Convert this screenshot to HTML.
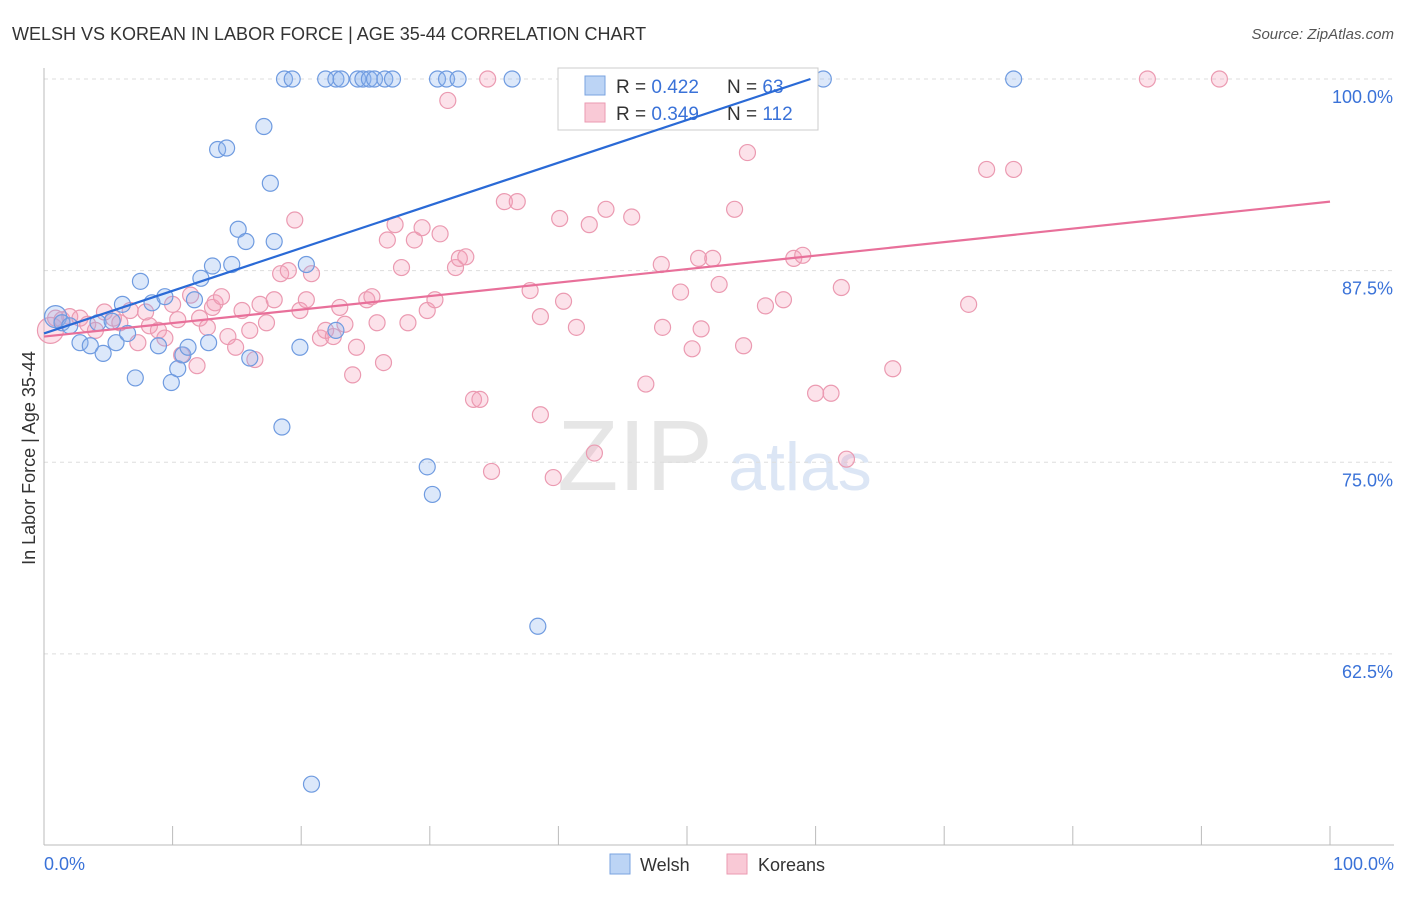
<!DOCTYPE html>
<html><head><meta charset="utf-8"><style>
body{margin:0;background:#fff;font-family:"Liberation Sans",sans-serif;}
svg text{font-family:"Liberation Sans",sans-serif;}
</style></head><body>
<svg id="chart" width="1406" height="892">
<text x="12" y="40" font-size="18" fill="#333">WELSH VS KOREAN IN LABOR FORCE | AGE 35-44 CORRELATION CHART</text>
<text x="1394" y="39" font-size="15" fill="#555" text-anchor="end" font-style="italic">Source: ZipAtlas.com</text>
<text x="35" y="458" font-size="18" fill="#333" text-anchor="middle" transform="rotate(-90 35 458)">In Labor Force | Age 35-44</text>
<text x="635" y="490" font-size="100" fill="#e6e6e6" font-family="Liberation Serif" text-anchor="middle">ZIP</text>
<text x="800" y="490" font-size="68" fill="#dce6f5" text-anchor="middle">atlas</text>
<g id="grid"></g><g id="pts"></g>
<g>
<rect x="558" y="68" width="260" height="62" fill="#fff" stroke="#ccc"/>
<rect x="585" y="76" width="20" height="19" fill="#bcd4f5" stroke="#7aa3e0"/>
<rect x="585" y="103" width="20" height="19" fill="#f9c9d6" stroke="#eb9ab1"/>
<text x="616" y="93" font-size="19" fill="#333">R = <tspan fill="#3a72d8">0.422</tspan></text>
<text x="727" y="93" font-size="19" fill="#333">N = <tspan fill="#3a72d8">63</tspan></text>
<text x="616" y="120" font-size="19" fill="#333">R = <tspan fill="#3a72d8">0.349</tspan></text>
<text x="727" y="120" font-size="19" fill="#333">N = <tspan fill="#3a72d8">112</tspan></text>
</g>
<g id="lines"></g>
<rect x="610" y="854" width="20" height="20" fill="#bcd4f5" stroke="#7aa3e0"/>
<text x="640" y="871" font-size="18" fill="#333">Welsh</text>
<rect x="727" y="854" width="20" height="20" fill="#f9c9d6" stroke="#eb9ab1"/>
<text x="758" y="871" font-size="18" fill="#333">Koreans</text>
<text x="44" y="870" font-size="18" fill="#3a72d8">0.0%</text>
<text x="1394" y="870" font-size="18" fill="#3a72d8" text-anchor="end">100.0%</text>
</svg>
<script>
const yTicks=[100,87.5,75,62.5];
const yTickLabels=["100.0%","87.5%","75.0%","62.5%"];
const welshX=[0.9,1.4,2.0,2.8,3.6,4.6,4.2,5.3,5.6,6.1,6.5,7.1,7.5,8.4,8.9,9.4,9.9,10.4,10.8,11.2,11.7,12.2,12.8,13.1,13.5,14.2,14.6,15.1,15.7,16.0,17.1,17.6,17.9,18.5,18.7,19.3,19.9,20.4,20.8,21.9,22.7,23.1,22.7,24.4,24.8,25.3,25.7,26.5,27.1,29.8,30.2,30.6,31.3,32.2,36.4,38.4,60.6,75.4];
const welshY=[84.5,84.1,83.9,82.8,82.6,82.1,84.1,84.2,82.8,85.3,83.4,80.5,86.8,85.4,82.6,85.8,80.2,81.1,82.0,82.5,85.6,87.0,82.8,87.8,95.4,95.5,87.9,90.2,89.4,81.8,96.9,93.2,89.4,77.3,100,100,82.5,87.9,54.0,100,100,100,83.6,100,100,100,100,100,100,74.7,72.9,100,100,100,100,64.3,100,100];
const korX=[0.5,0.9,1.4,2.0,2.8,3.4,4.0,4.7,5.4,5.9,6.7,7.3,7.9,8.2,8.9,9.4,10.0,10.4,10.7,11.4,11.9,12.1,12.7,13.1,13.3,13.8,14.3,14.9,15.4,16.0,16.4,16.8,17.3,17.9,18.4,19.0,19.5,19.9,20.4,20.8,21.5,21.9,22.5,23.0,23.4,24.0,24.3,25.1,25.5,25.9,26.4,26.7,27.3,27.8,28.3,28.8,29.4,29.8,30.4,30.8,31.4,32.0,32.3,32.8,33.4,33.9,34.5,34.8,35.8,36.8,37.8,38.6,38.6,39.6,40.1,40.4,41.4,42.4,42.8,43.7,45.7,46.8,47.7,48.1,48.0,49.5,50.4,50.9,51.1,52.0,52.5,53.7,54.4,54.7,55.7,56.1,57.5,58.3,59.0,60.0,61.2,62.0,62.4,66.0,71.9,73.3,75.4,85.8,91.4];
const korY=[83.6,84.4,84.3,84.5,84.4,84.0,83.6,84.8,84.4,84.1,84.9,82.8,84.8,83.9,83.6,83.1,85.3,84.3,82.0,85.9,81.3,84.4,83.8,85.1,85.4,85.8,83.2,82.5,84.9,83.6,81.7,85.3,84.1,85.6,87.3,87.5,90.8,84.9,85.6,87.3,83.1,83.6,83.2,85.1,84.0,80.7,82.5,85.6,85.8,84.1,81.5,89.5,90.5,87.7,84.1,89.5,90.3,84.9,85.6,89.9,98.6,87.7,88.3,88.4,79.1,79.1,100,74.4,92.0,92.0,86.2,84.5,78.1,74.0,90.9,85.5,83.8,90.5,75.6,91.5,91.0,80.1,100,83.8,87.9,86.1,82.4,88.3,83.7,88.3,86.6,91.5,82.6,95.2,100,85.2,85.6,88.3,88.5,79.5,79.5,86.4,75.2,81.1,85.3,94.1,94.1,100,100];
const welshTrend=[[0,83.4],[59.6,100]];
const korTrend=[[0,83.2],[100,92.0]];
const NS="http://www.w3.org/2000/svg";
const xs=v=>44+v*12.86, ys=v=>79+(100-v)*15.33;
function mk(t,a,p){const e=document.createElementNS(NS,t);for(const k in a)e.setAttribute(k,a[k]);document.getElementById(p).appendChild(e);return e;}
yTicks.forEach((t,i)=>{
 const l=mk('line',{x1:44,x2:1394,y1:ys(t),y2:ys(t),stroke:'#ddd','stroke-dasharray':'4 4'},'grid');
 
 
 const tx=mk('text',{x:1393,y:ys(t)+24,'font-size':18,fill:'#3a72d8','text-anchor':'end'},'grid');
 tx.textContent=yTickLabels[i];
 
 
});
const ax=mk('line',{x1:44,x2:44,y1:68,y2:845,stroke:'#bbb'},'grid');


const bx=mk('line',{x1:44,x2:1394,y1:845,y2:845,stroke:'#bbb'},'grid');


for(let i=1;i<=10;i++){const t=mk('line',{x1:xs(i*10),x2:xs(i*10),y1:826,y2:845,stroke:'#bbb'},'grid');
 
 }
korX.forEach((v,i)=>{const c=mk('circle',{cx:xs(v),cy:ys(korY[i]),r:i==0?13:8,fill:'rgba(245,160,185,0.3)',stroke:'#eb9ab1','stroke-width':1.2},'pts');
 
 });
welshX.forEach((v,i)=>{const c=mk('circle',{cx:xs(v),cy:ys(welshY[i]),r:i==0?11:8,fill:'rgba(140,180,240,0.3)',stroke:'#6f9be0','stroke-width':1.2},'pts');
 
 });
const wl=mk('line',{x1:xs(welshTrend[0][0]),y1:ys(welshTrend[0][1]),x2:xs(welshTrend[1][0]),y2:ys(welshTrend[1][1]),stroke:'#2a6ad6','stroke-width':2.2},'lines');


const kl=mk('line',{x1:xs(korTrend[0][0]),y1:ys(korTrend[0][1]),x2:xs(korTrend[1][0]),y2:ys(korTrend[1][1]),stroke:'#e8709a','stroke-width':2.2},'lines');


</script>
</body></html>
